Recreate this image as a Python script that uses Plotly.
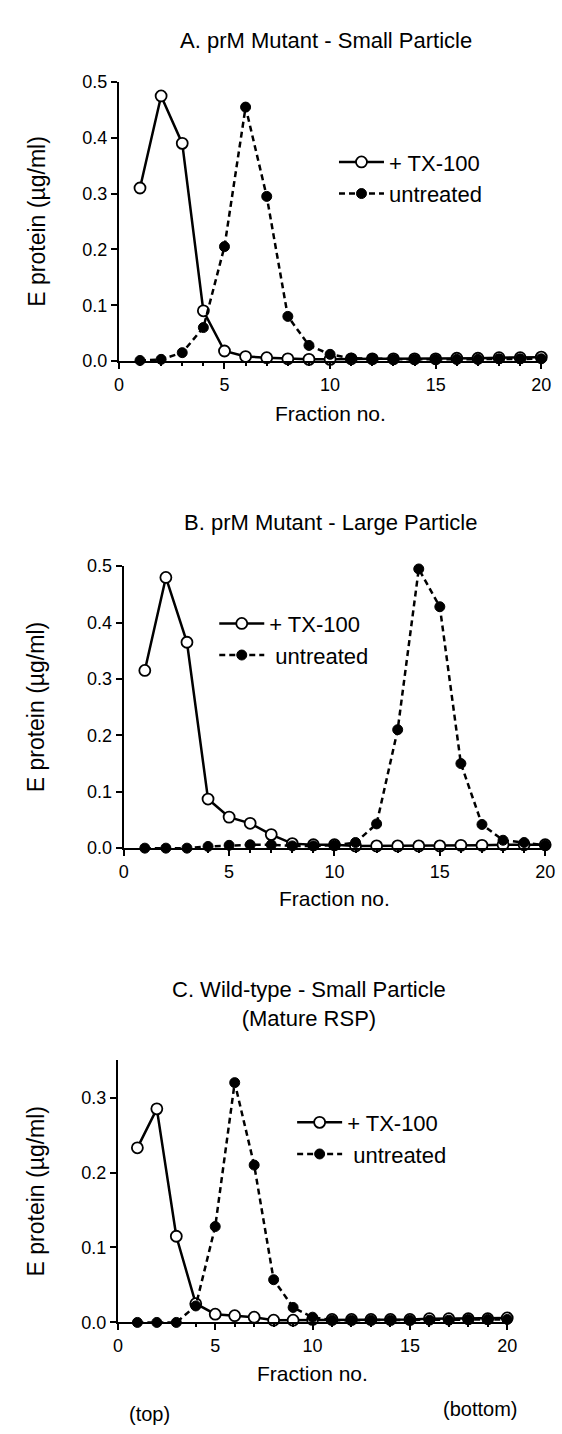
import plotly.graph_objects as go

# ---------------- data ----------------
fractions = list(range(1, 21))

a_tx = [0.31, 0.475, 0.39, 0.09, 0.018, 0.008, 0.006, 0.004, 0.003, 0.003,
        0.004, 0.004, 0.004, 0.004, 0.004, 0.005, 0.005, 0.006, 0.006, 0.007]
a_un = [0.001, 0.003, 0.015, 0.06, 0.205, 0.455, 0.295, 0.08, 0.028, 0.012,
        0.005, 0.004, 0.003, 0.003, 0.003, 0.003, 0.003, 0.004, 0.004, 0.004]

b_tx = [0.315, 0.48, 0.365, 0.087, 0.055, 0.044, 0.024, 0.008, 0.006, 0.006,
        0.004, 0.004, 0.004, 0.004, 0.004, 0.005, 0.005, 0.006, 0.006, 0.006]
b_un = [0.0, 0.0, 0.0, 0.003, 0.005, 0.006, 0.006, 0.004, 0.004, 0.005,
        0.01, 0.043, 0.21, 0.495, 0.428, 0.15, 0.042, 0.014, 0.01, 0.005]

c_tx = [0.233, 0.285, 0.115, 0.025, 0.011, 0.009, 0.007, 0.003, 0.003, 0.004,
        0.004, 0.004, 0.004, 0.004, 0.004, 0.005, 0.005, 0.005, 0.005, 0.006]
c_un = [0.0, 0.0, 0.0, 0.022, 0.128, 0.32, 0.21, 0.057, 0.02, 0.007,
        0.003, 0.003, 0.003, 0.003, 0.003, 0.003, 0.003, 0.004, 0.004, 0.004]

titles = ["A. prM Mutant - Small Particle",
          "B. prM Mutant - Large Particle",
          "C. Wild-type - Small Particle<br>(Mature RSP)"]
tx_names = ["+ TX-100", "+ TX-100", "+ TX-100"]
un_names = ["untreated", " untreated", " untreated"]
x_ticks = [0, 5, 10, 15, 20]
y_ticks_ab = [0.0, 0.1, 0.2, 0.3, 0.4, 0.5]
y_ticks_c = [0.0, 0.1, 0.2, 0.3]
x_title = "Fraction no."
y_title = "E protein (µg/ml)"

# ---------------- layout helpers ----------------
W, H = 562, 1434
FONT = "Liberation Sans, Arial, Helvetica, sans-serif"

def px(x):
    return x / W

def py(y):
    return 1 - y / H

# pixel geometry of the three panels
panels = [
    dict(x0=117, x1=551, yt=73, yb=356, ymax=0.5, yticks=y_ticks_ab,
         title_y=31, xt_y=409, leg=(338, 133)),
    dict(x0=122, x1=555, yt=564, yb=850, ymax=0.5, yticks=y_ticks_ab,
         title_y=520, xt_y=901, leg=(215, 601)),
    dict(x0=116, x1=516, yt=1065, yb=1331, ymax=0.35, yticks=y_ticks_c,
         title_y=1008, xt_y=1383, leg=(295, 1107)),
]
series = [(a_tx, a_un), (b_tx, b_un), (c_tx, c_un)]

fig = go.Figure()
annotations = []
layout_axes = {}

for i, (p, (tx, un)) in enumerate(zip(panels, series)):
    n = "" if i == 0 else str(i + 1)
    xa, ya = "x" + n, "y" + n
    leg = "legend" + n
    fig.add_trace(go.Scatter(
        x=fractions, y=tx, name=tx_names[i], mode="lines+markers",
        xaxis=xa, yaxis=ya, legend=leg, cliponaxis=False,
        line=dict(color="black", width=2.5),
        marker=dict(symbol="circle", size=11, color="white",
                    line=dict(color="black", width=1.8))))
    fig.add_trace(go.Scatter(
        x=fractions, y=un, name=un_names[i], mode="lines+markers",
        xaxis=xa, yaxis=ya, legend=leg, cliponaxis=False,
        line=dict(color="black", width=2.5, dash="6px,4px"),
        marker=dict(symbol="circle", size=10, color="black",
                    line=dict(color="black", width=1))))

    axis_common = dict(showline=True, linecolor="black", linewidth=2,
                       ticks="outside", ticklen=6, tickwidth=2,
                       tickcolor="black", showgrid=False, zeroline=False,
                       tickfont=dict(family=FONT, size=18, color="black"))
    layout_axes["xaxis" + n] = dict(
        axis_common, domain=[px(p["x0"]), px(p["x1"])], range=[0, 20],
        tickvals=x_ticks, anchor=ya,
        minor=dict(dtick=1, ticks="outside", ticklen=3, tickwidth=1.5,
                   tickcolor="black"))
    layout_axes["yaxis" + n] = dict(
        axis_common, domain=[py(p["yb"]), py(p["yt"])],
        range=[0, p["ymax"]], tickvals=p["yticks"], tickformat=".1f",
        anchor=xa)

    cx = (p["x0"] + p["x1"]) / 2
    annotations.append(dict(
        text=titles[i], x=px(cx - 4), y=py(p["title_y"]), xref="paper",
        yref="paper", showarrow=False, xanchor="center", yanchor="middle",
        font=dict(family=FONT, size=22, color="black")))
    annotations.append(dict(
        text=x_title, x=px(cx), y=py(p["xt_y"]), xref="paper", yref="paper",
        showarrow=False, xanchor="center", yanchor="middle",
        font=dict(family=FONT, size=21, color="black")))
    annotations.append(dict(
        text=y_title, x=px(32), y=py((p["yt"] + p["yb"]) / 2), xref="paper",
        yref="paper", showarrow=False, textangle=-90, xanchor="center",
        yanchor="middle", font=dict(family=FONT, size=23, color="black")))

    layout_axes[leg] = dict(
        x=px(p["leg"][0]), y=py(p["leg"][1]), xanchor="left", yanchor="top",
        bgcolor="rgba(0,0,0,0)", borderwidth=0, itemwidth=45,
        font=dict(family=FONT, size=22, color="black"))

annotations.append(dict(text="(top)", x=px(148), y=py(1424), xref="paper",
                        yref="paper", showarrow=False, xanchor="center",
                        yanchor="middle",
                        font=dict(family=FONT, size=20, color="black")))
annotations.append(dict(text="(bottom)", x=px(488), y=py(1419), xref="paper",
                        yref="paper", showarrow=False, xanchor="center",
                        yanchor="middle",
                        font=dict(family=FONT, size=20, color="black")))

fig.update_layout(
    width=W, height=H, margin=dict(l=0, r=0, t=0, b=0),
    paper_bgcolor="white", plot_bgcolor="white", showlegend=True,
    annotations=annotations, **layout_axes)

fig.write_html("out.html", config={"displayModeBar": False},
               post_script="document.body.style.margin='0';"
                           "document.body.style.overflow='hidden';")
